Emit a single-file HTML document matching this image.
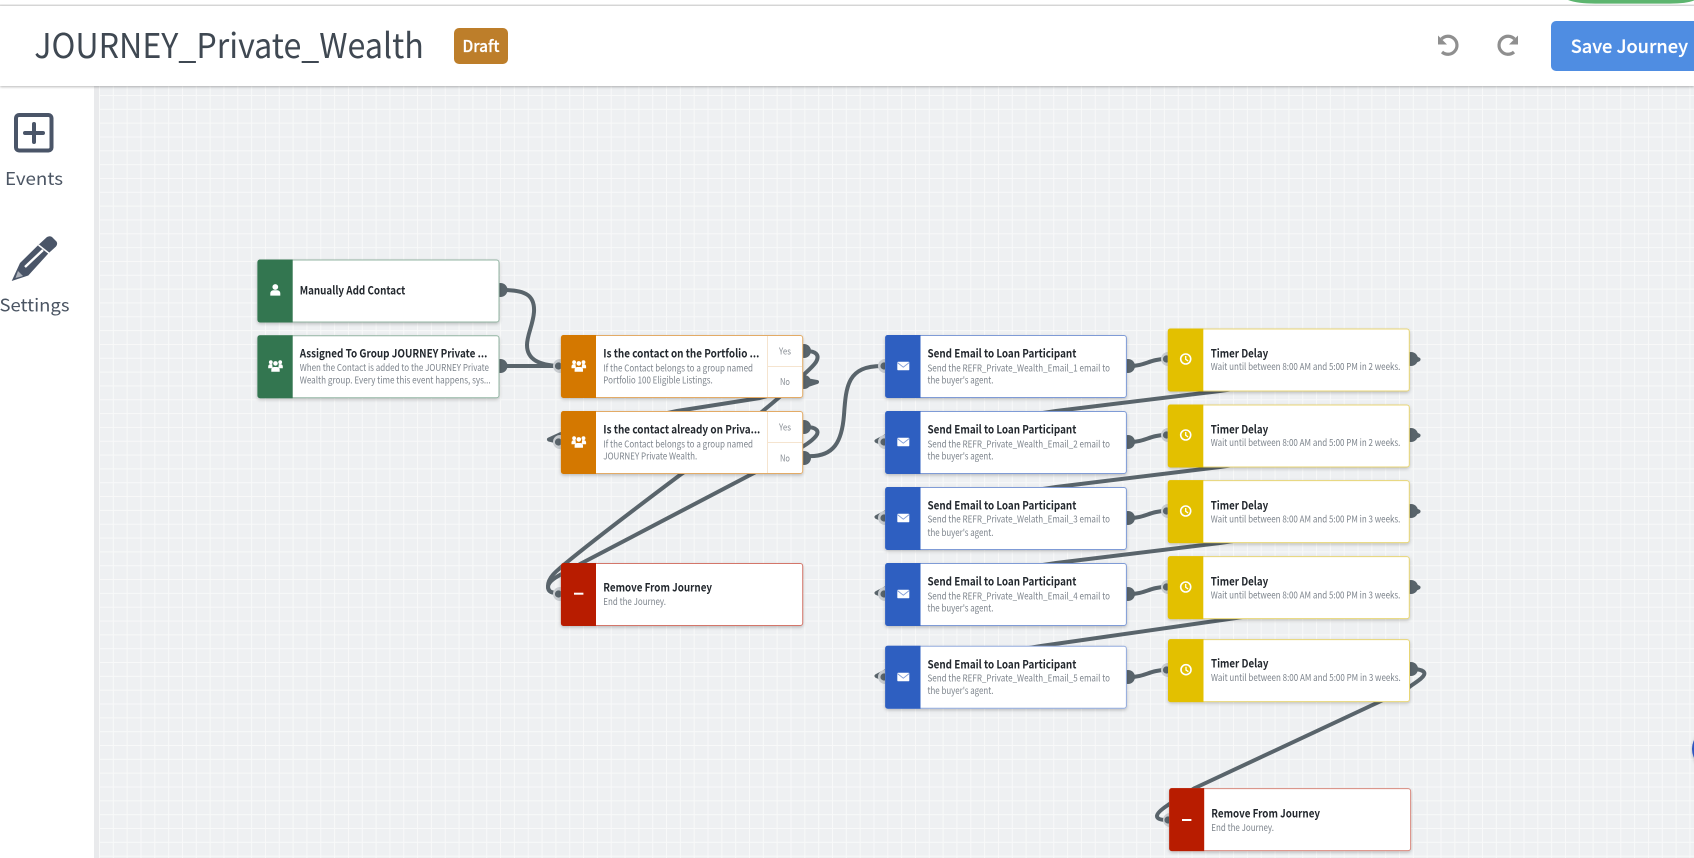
<!DOCTYPE html>
<html lang="en">
<head>
<meta charset="utf-8">
<title>JOURNEY_Private_Wealth</title>
<style>
html,body{margin:0;padding:0;width:1694px;height:858px;overflow:hidden;background:#fff}
svg{display:block}
text{font-family:"Noto Sans CJK JP","Liberation Sans",sans-serif}
.t{font-size:11.6px;font-weight:700;fill:#23282e}
.d{font-size:9.5px;fill:#7d848c}
.o{font-size:9.2px;fill:#868c93;text-anchor:middle}
.c{fill:none;stroke:#59646b;stroke-width:4;stroke-linecap:round;stroke-linejoin:round}
.rp{fill:#59646b}
.h{fill:#c9cdd1}
.k{fill:#59646b}
</style>
</head>
<body>
<svg width="1694" height="858" viewBox="0 0 1694 858" xmlns="http://www.w3.org/2000/svg">
<defs>
<pattern id="grid" patternUnits="userSpaceOnUse" x="99" y="95" width="13.83" height="13.83">
<rect width="13.83" height="13.83" fill="#eef0f2"/>
<rect x="0" y="0" width="1" height="13.83" fill="#f8f9f9"/>
<rect x="0" y="0" width="13.83" height="1" fill="#f8f9f9"/>
</pattern>
<filter id="s" x="-5%" y="-15%" width="110%" height="135%"><feDropShadow dx="0" dy="1.5" stdDeviation="1.6" flood-color="#000" flood-opacity=".22"/></filter>
<filter id="hs" x="-2%" y="-20%" width="104%" height="140%"><feDropShadow dx="0" dy="1" stdDeviation="1.2" flood-color="#000" flood-opacity=".28"/></filter>
<g id="person"><circle cx="0" cy="-3" r="2.9" fill="#fff"/><path d="M-5 5.6V3.2a3 3 0 0 1 3-3h4a3 3 0 0 1 3 3v2.4z" fill="#fff"/></g>
<g id="group" fill="#fff"><circle cx="-4.7" cy="-3.8" r="1.9"/><circle cx="4.7" cy="-3.8" r="1.9"/><circle cx="0" cy="-2.6" r="2.3"/><path d="M-7.3 2.2v-1.7a2.4 2.4 0 0 1 2.4-2.4h1.6l.5 4.1zM7.3 2.2v-1.7a2.4 2.4 0 0 0-2.4-2.4h-1.6l-.5 4.1z"/><path d="M-4.2 5.8v-2.2a2.6 2.6 0 0 1 2.6-2.6h3.2a2.6 2.6 0 0 1 2.6 2.6v2.2z"/></g>
<g id="mail"><rect x="-6" y="-4.3" width="12" height="8.6" rx=".8" fill="#fff"/><path d="M-5.8-3.4 0 1.2 5.8-3.4" fill="none" stroke="#7f9bd6" stroke-width=".9"/></g>
<g id="clock" fill="none" stroke="#fff"><circle r="5" stroke-width="1.6"/><path d="M0-3V0.3L2.4 2" stroke-width="1.3"/></g>
</defs>

<!-- canvas -->
<rect x="94" y="86" width="1600" height="772" fill="url(#grid)"/>
<rect x="94" y="86" width="5" height="772" fill="#e9eaec"/>

<!-- connectors -->
<path class="c" d="M503 290C525 290 535 295 534 312C533 325 527 335 527 345C527 360 540 365 558 366"/>
<path class="c" d="M503 366H558"/>
<path class="c" d="M806 351C816 351 820 355 816 362C812 368 806 372 796 382C770 408 690 468 680 475C640 505 600 535 566 563C555 572 548 578 548 586C548 592 552 593 558 593"/>
<path class="c" d="M806 380L817 382L802 387L760 398L677 411L640 419L561 434L549 439.5L557 441.5"/>
<path class="c" d="M806 427C816 427 820 431 816 436C812 441 806 445 790 454L752 474L582 563L566 572C555 577 548 582 548 587C548 592 552 593 558 593"/>
<path class="c" d="M806 456C835 458 842 440 844 415C846 385 848 366 882 366"/>

<path class="c" d="M1130 366C1145 366 1150 359 1166 359"/>
<path class="c" d="M1130 442C1145 442 1150 435 1166 435"/>
<path class="c" d="M1130 518C1145 518 1150 511 1166 511"/>
<path class="c" d="M1130 594C1145 594 1150 587 1166 587"/>
<path class="c" d="M1130 677C1145 677 1150 670 1166 670"/>

<path class="c" d="M1412 356.5L1418.5 359.5L1410 363L1220 391L1056 411L885 436.5L876.5 441L884 444"/>
<path class="c" d="M1412 432.5L1418.5 435.5L1410 439L1220 467L1056 487L885 512.5L876.5 517L884 520"/>
<path class="c" d="M1412 508.5L1418.5 511.5L1410 515L1220 543L1056 563L885 588.5L876.5 593L884 596"/>
<path class="c" d="M1412 584.5L1418.5 587.5L1410 591L1236 618L1041 646L885 671.5L876.5 676L884 679"/>
<path class="c" d="M1412 669C1420 669 1426 671 1424 675C1422 679 1416 682 1408 688L1381 701L1195 788L1168 805C1162 809 1157 813 1157 816C1157 819 1161 820 1167 820"/>

<!-- ports -->
<g class="rp">
<circle cx="500.5" cy="290" r="7"/><circle cx="500.5" cy="366" r="7"/>
<circle cx="804" cy="351" r="7"/><circle cx="804" cy="382" r="7"/>
<circle cx="804" cy="427" r="7"/><circle cx="804" cy="458" r="7"/>
<circle cx="1128" cy="366" r="7"/><circle cx="1128" cy="442" r="7"/><circle cx="1128" cy="518" r="7"/><circle cx="1128" cy="594" r="7"/><circle cx="1128" cy="677" r="7"/>
<circle cx="1411" cy="359" r="7"/><circle cx="1411" cy="435" r="7"/><circle cx="1411" cy="511" r="7"/><circle cx="1411" cy="587" r="7"/><circle cx="1411" cy="669" r="7"/>
</g>
<g class="h">
<circle cx="560" cy="366" r="7"/><circle cx="560" cy="442" r="7"/><circle cx="560" cy="594" r="7"/>
<circle cx="885" cy="366" r="7"/><circle cx="885" cy="442" r="7"/><circle cx="885" cy="518" r="7"/><circle cx="885" cy="594" r="7"/><circle cx="885" cy="677" r="7"/>
<circle cx="1168" cy="359" r="7"/><circle cx="1168" cy="435" r="7"/><circle cx="1168" cy="511" r="7"/><circle cx="1168" cy="587" r="7"/><circle cx="1168" cy="670" r="7"/>
<circle cx="1170" cy="820" r="7"/>
</g>
<g class="k">
<circle cx="558.5" cy="366" r="3.6"/><circle cx="558.5" cy="442" r="3.6"/><circle cx="558.5" cy="594" r="3.6"/>
<circle cx="884" cy="366" r="3.6"/><circle cx="884" cy="442" r="3.6"/><circle cx="884" cy="518" r="3.6"/><circle cx="884" cy="594" r="3.6"/><circle cx="884" cy="677" r="3.6"/>
<circle cx="1166.5" cy="359" r="3.6"/><circle cx="1166.5" cy="435" r="3.6"/><circle cx="1166.5" cy="511" r="3.6"/><circle cx="1166.5" cy="587" r="3.6"/><circle cx="1166.5" cy="670" r="3.6"/>
<circle cx="1168" cy="820" r="3.6"/>
</g>

<!-- Nodes: green -->
<g>
<rect x="257.7" y="260" width="241.3" height="62" rx="2.5" fill="#fff" stroke="#93b5a3" filter="url(#s)"/>
<path d="M260 259.5h32.7v63H260a2.5 2.5 0 0 1-2.5-2.5V262a2.5 2.5 0 0 1 2.5-2.5z" fill="#337650"/>
<use href="#person" x="275.3" y="290"/>
<text class="t" x="299.7" y="294.3" textLength="105.6" lengthAdjust="spacingAndGlyphs">Manually Add Contact</text>
</g>
<g>
<rect x="257.7" y="335.7" width="241.3" height="62" rx="2.5" fill="#fff" stroke="#93b5a3" filter="url(#s)"/>
<path d="M260 335.2h32.7v63H260a2.5 2.5 0 0 1-2.5-2.5V337.7a2.5 2.5 0 0 1 2.5-2.5z" fill="#337650"/>
<use href="#group" x="275.5" y="366"/>
<text class="t" x="299.7" y="357.5" textLength="187.6" lengthAdjust="spacingAndGlyphs">Assigned To Group JOURNEY Private ...</text>
<text class="d" x="299.7" y="371" textLength="189.3" lengthAdjust="spacingAndGlyphs">When the Contact is added to the JOURNEY Private</text>
<text class="d" x="299.7" y="383.3" textLength="191" lengthAdjust="spacingAndGlyphs">Wealth group. Every time this event happens, sys...</text>
</g>

<!-- Nodes: orange -->
<g>
<rect x="561.3" y="335.5" width="241.4" height="62" rx="2.5" fill="#fff" stroke="#e3ab66" filter="url(#s)"/>
<path d="M563.5 335h32.5v63h-32.5a2.5 2.5 0 0 1-2.5-2.5V337.5a2.5 2.5 0 0 1 2.5-2.5z" fill="#d47800"/>
<use href="#group" x="578.8" y="366"/>
<path d="M767.5 336V397M767.5 366.5H802" stroke="#f5e4cf" stroke-width="1" fill="none"/>
<text class="t" x="603.3" y="357.3" textLength="156" lengthAdjust="spacingAndGlyphs">Is the contact on the Portfolio ...</text>
<text class="d" x="603.3" y="371.3" textLength="149.7" lengthAdjust="spacingAndGlyphs">If the Contact belongs to a group named</text>
<text class="d" x="603.3" y="383.3" textLength="109.4" lengthAdjust="spacingAndGlyphs">Portfolio 100 Eligible Listings.</text>
<text class="o" x="785" y="354.5" textLength="12" lengthAdjust="spacingAndGlyphs">Yes</text>
<text class="o" x="785" y="385" textLength="10" lengthAdjust="spacingAndGlyphs">No</text>
</g>
<g>
<rect x="561.3" y="411.5" width="241.4" height="62" rx="2.5" fill="#fff" stroke="#e3ab66" filter="url(#s)"/>
<path d="M563.5 411h32.5v63h-32.5a2.5 2.5 0 0 1-2.5-2.5V413.5a2.5 2.5 0 0 1 2.5-2.5z" fill="#d47800"/>
<use href="#group" x="578.8" y="442"/>
<path d="M767.5 412V473M767.5 442.5H802" stroke="#f5e4cf" stroke-width="1" fill="none"/>
<text class="t" x="603.3" y="433.3" textLength="157" lengthAdjust="spacingAndGlyphs">Is the contact already on Priva...</text>
<text class="d" x="603.3" y="447.3" textLength="149.7" lengthAdjust="spacingAndGlyphs">If the Contact belongs to a group named</text>
<text class="d" x="603.3" y="459.3" textLength="94" lengthAdjust="spacingAndGlyphs">JOURNEY Private Wealth.</text>
<text class="o" x="785" y="430.5" textLength="12" lengthAdjust="spacingAndGlyphs">Yes</text>
<text class="o" x="785" y="461.5" textLength="10" lengthAdjust="spacingAndGlyphs">No</text>
</g>

<!-- Nodes: red -->
<g>
<rect x="561.3" y="563.5" width="241.4" height="62" rx="2.5" fill="#fff" stroke="#d4766a" filter="url(#s)"/>
<path d="M563.5 563h32.5v63h-32.5a2.5 2.5 0 0 1-2.5-2.5V565.5a2.5 2.5 0 0 1 2.5-2.5z" fill="#b81c00"/>
<rect x="574" y="592.7" width="9.4" height="2" fill="#fff"/>
<text class="t" x="603.3" y="591.5" textLength="108.7" lengthAdjust="spacingAndGlyphs">Remove From Journey</text>
<text class="d" x="603.3" y="605" textLength="62.7" lengthAdjust="spacingAndGlyphs">End the Journey.</text>
</g>
<g>
<rect x="1169.6" y="788.6" width="241" height="62" rx="2.5" fill="#fff" stroke="#d98a7f" filter="url(#s)"/>
<path d="M1171.7 788.1h32.5v63h-32.5a2.5 2.5 0 0 1-2.5-2.5V790.6a2.5 2.5 0 0 1 2.5-2.5z" fill="#b81c00"/>
<rect x="1182" y="819" width="9.4" height="2" fill="#fff"/>
<text class="t" x="1211.3" y="817.7" textLength="108.7" lengthAdjust="spacingAndGlyphs">Remove From Journey</text>
<text class="d" x="1211.3" y="831" textLength="62.7" lengthAdjust="spacingAndGlyphs">End the Journey.</text>
</g>

<!-- Nodes: blue -->
<g>
<rect x="885.5" y="335.5" width="240.9" height="62" rx="2.5" fill="#fff" stroke="#7f9bd6" filter="url(#s)"/>
<path d="M887.7 335h32.8v63h-32.8a2.5 2.5 0 0 1-2.5-2.5V337.5a2.5 2.5 0 0 1 2.5-2.5z" fill="#2e5fc1"/>
<use href="#mail" x="903.3" y="366"/>
<text class="t" x="927.5" y="357.7" textLength="148.9" lengthAdjust="spacingAndGlyphs">Send Email to Loan Participant</text>
<text class="d" x="927.5" y="371.3" textLength="182.5" lengthAdjust="spacingAndGlyphs">Send the REFR_Private_Wealth_Email_1 email to</text>
<text class="d" x="927.5" y="383.3" textLength="66" lengthAdjust="spacingAndGlyphs">the buyer's agent.</text>
</g>
<g>
<rect x="885.5" y="411.5" width="240.9" height="62" rx="2.5" fill="#fff" stroke="#7f9bd6" filter="url(#s)"/>
<path d="M887.7 411h32.8v63h-32.8a2.5 2.5 0 0 1-2.5-2.5V413.5a2.5 2.5 0 0 1 2.5-2.5z" fill="#2e5fc1"/>
<use href="#mail" x="903.3" y="442"/>
<text class="t" x="927.5" y="433.7" textLength="148.9" lengthAdjust="spacingAndGlyphs">Send Email to Loan Participant</text>
<text class="d" x="927.5" y="447.3" textLength="182.5" lengthAdjust="spacingAndGlyphs">Send the REFR_Private_Wealth_Email_2 email to</text>
<text class="d" x="927.5" y="459.3" textLength="66" lengthAdjust="spacingAndGlyphs">the buyer's agent.</text>
</g>
<g>
<rect x="885.5" y="487.5" width="240.9" height="62" rx="2.5" fill="#fff" stroke="#7f9bd6" filter="url(#s)"/>
<path d="M887.7 487h32.8v63h-32.8a2.5 2.5 0 0 1-2.5-2.5V489.5a2.5 2.5 0 0 1 2.5-2.5z" fill="#2e5fc1"/>
<use href="#mail" x="903.3" y="518"/>
<text class="t" x="927.5" y="509.7" textLength="148.9" lengthAdjust="spacingAndGlyphs">Send Email to Loan Participant</text>
<text class="d" x="927.5" y="522.5" textLength="182.5" lengthAdjust="spacingAndGlyphs">Send the REFR_Private_Welath_Email_3 email to</text>
<text class="d" x="927.5" y="535.8" textLength="66" lengthAdjust="spacingAndGlyphs">the buyer's agent.</text>
</g>
<g>
<rect x="885.5" y="563.5" width="240.9" height="62" rx="2.5" fill="#fff" stroke="#7f9bd6" filter="url(#s)"/>
<path d="M887.7 563h32.8v63h-32.8a2.5 2.5 0 0 1-2.5-2.5V565.5a2.5 2.5 0 0 1 2.5-2.5z" fill="#2e5fc1"/>
<use href="#mail" x="903.3" y="594"/>
<text class="t" x="927.5" y="585.7" textLength="148.9" lengthAdjust="spacingAndGlyphs">Send Email to Loan Participant</text>
<text class="d" x="927.5" y="599.3" textLength="182.5" lengthAdjust="spacingAndGlyphs">Send the REFR_Private_Wealth_Email_4 email to</text>
<text class="d" x="927.5" y="611.3" textLength="66" lengthAdjust="spacingAndGlyphs">the buyer's agent.</text>
</g>
<g>
<rect x="885.5" y="646.2" width="240.9" height="62" rx="2.5" fill="#fff" stroke="#93abdd" filter="url(#s)"/>
<path d="M887.7 645.7h32.8v63h-32.8a2.5 2.5 0 0 1-2.5-2.5V648.2a2.5 2.5 0 0 1 2.5-2.5z" fill="#2e5fc1"/>
<use href="#mail" x="903.3" y="677"/>
<text class="t" x="927.5" y="668.7" textLength="148.9" lengthAdjust="spacingAndGlyphs">Send Email to Loan Participant</text>
<text class="d" x="927.5" y="681.3" textLength="182.5" lengthAdjust="spacingAndGlyphs">Send the REFR_Private_Wealth_Email_5 email to</text>
<text class="d" x="927.5" y="694" textLength="66" lengthAdjust="spacingAndGlyphs">the buyer's agent.</text>
</g>

<!-- Nodes: yellow -->
<g>
<rect x="1168.3" y="329" width="241" height="62" rx="2.5" fill="#fff" stroke="#e8d675" filter="url(#s)"/>
<path d="M1170.3 328.5h33v63h-33a2.5 2.5 0 0 1-2.5-2.5V331a2.5 2.5 0 0 1 2.5-2.5z" fill="#e3c000"/>
<use href="#clock" x="1185.7" y="359"/>
<text class="t" x="1210.7" y="357.7" textLength="57.5" lengthAdjust="spacingAndGlyphs">Timer Delay</text>
<text class="d" x="1210.7" y="370" textLength="189.7" lengthAdjust="spacingAndGlyphs">Wait until between 8:00 AM and 5:00 PM in 2 weeks.</text>
</g>
<g>
<rect x="1168.3" y="405" width="241" height="62" rx="2.5" fill="#fff" stroke="#e8d675" filter="url(#s)"/>
<path d="M1170.3 404.5h33v63h-33a2.5 2.5 0 0 1-2.5-2.5V407a2.5 2.5 0 0 1 2.5-2.5z" fill="#e3c000"/>
<use href="#clock" x="1185.7" y="435"/>
<text class="t" x="1210.7" y="433.7" textLength="57.5" lengthAdjust="spacingAndGlyphs">Timer Delay</text>
<text class="d" x="1210.7" y="446" textLength="189.7" lengthAdjust="spacingAndGlyphs">Wait until between 8:00 AM and 5:00 PM in 2 weeks.</text>
</g>
<g>
<rect x="1168.3" y="480.6" width="241" height="62" rx="2.5" fill="#fff" stroke="#e8d675" filter="url(#s)"/>
<path d="M1170.3 480.1h33v63h-33a2.5 2.5 0 0 1-2.5-2.5V482.6a2.5 2.5 0 0 1 2.5-2.5z" fill="#e3c000"/>
<use href="#clock" x="1185.7" y="511"/>
<text class="t" x="1210.7" y="509.7" textLength="57.5" lengthAdjust="spacingAndGlyphs">Timer Delay</text>
<text class="d" x="1210.7" y="522.3" textLength="189.7" lengthAdjust="spacingAndGlyphs">Wait until between 8:00 AM and 5:00 PM in 3 weeks.</text>
</g>
<g>
<rect x="1168.3" y="556.6" width="241" height="62" rx="2.5" fill="#fff" stroke="#e8d675" filter="url(#s)"/>
<path d="M1170.3 556.1h33v63h-33a2.5 2.5 0 0 1-2.5-2.5V558.6a2.5 2.5 0 0 1 2.5-2.5z" fill="#e3c000"/>
<use href="#clock" x="1185.7" y="587"/>
<text class="t" x="1210.7" y="585.7" textLength="57.5" lengthAdjust="spacingAndGlyphs">Timer Delay</text>
<text class="d" x="1210.7" y="598.3" textLength="189.7" lengthAdjust="spacingAndGlyphs">Wait until between 8:00 AM and 5:00 PM in 3 weeks.</text>
</g>
<g>
<rect x="1168.5" y="639.6" width="241" height="62" rx="2.5" fill="#fff" stroke="#e8d675" filter="url(#s)"/>
<path d="M1170.5 639.1h33v63h-33a2.5 2.5 0 0 1-2.5-2.5V641.6a2.5 2.5 0 0 1 2.5-2.5z" fill="#e3c000"/>
<use href="#clock" x="1186" y="669.7"/>
<text class="t" x="1211" y="667.7" textLength="57.5" lengthAdjust="spacingAndGlyphs">Timer Delay</text>
<text class="d" x="1211" y="681" textLength="189.7" lengthAdjust="spacingAndGlyphs">Wait until between 8:00 AM and 5:00 PM in 3 weeks.</text>
</g>

<!-- floating circle at right edge -->
<circle cx="1713" cy="749" r="21" fill="#2d55c0" filter="url(#s)"/>

<!-- sidebar -->
<path d="M0 86H90a4 4 0 0 1 4 4V858H0z" fill="#fff"/>
<rect x="16" y="115" width="35.5" height="35.5" rx="3" fill="none" stroke="#4a5568" stroke-width="4"/>
<path d="M34 124V142M25 133H43" stroke="#4a5568" stroke-width="4" stroke-linecap="round"/>
<text x="5" y="185" font-size="17.8" fill="#4b5563" textLength="58" lengthAdjust="spacingAndGlyphs">Events</text>
<path d="M11.7 281L20 263L38.3 245L47 237Q50 235.5 52 237L56.5 241.5Q58 244 56 246.5L48.3 253.5L28.3 275.5z" fill="#4a5568"/>
<path d="M25 267L43 250" stroke="#fff" stroke-width="2.4" fill="none"/>
<path d="M38.5 245L50.5 254.5" stroke="#fff" stroke-width="1.5" fill="none"/>
<path d="M18 271L23 276L15.5 278z" fill="#fff" opacity=".55"/>
<text x="-0.5" y="311.7" font-size="17.8" fill="#4b5563" textLength="70" lengthAdjust="spacingAndGlyphs">Settings</text>

<!-- header -->
<rect x="0" y="0" width="1694" height="5" fill="#fff"/>
<path d="M1568 0H1694V0.5Q1686 3.6 1670 3.6H1595Q1578 3.6 1568 0z" fill="#5db56f"/>
<rect x="0" y="4.5" width="1694" height="1.5" fill="#dcdcdc"/>
<rect x="0" y="6" width="1694" height="80" fill="#fff" filter="url(#hs)"/>
<text x="34.3" y="58" font-size="34.4" fill="#3f4852" textLength="389.5" lengthAdjust="spacingAndGlyphs">JOURNEY_Private_Wealth</text>
<rect x="454" y="28" width="54" height="36" rx="5" fill="#bd7e2a"/>
<text x="462.5" y="52" font-size="16" font-weight="500" fill="#fff" stroke="#fff" stroke-width=".25" textLength="37" lengthAdjust="spacingAndGlyphs">Draft</text>

<g fill="none" stroke="#8f8f8f" stroke-width="3.2">
<path d="M1441.5 39A9 9 0 1 1 1442 52"/>
<path d="M1514.5 39A9 9 0 1 0 1514 52"/>
</g>
<path d="M1438 35.5V44.5H1447z" fill="#8f8f8f"/>
<path d="M1518 35.5V44.5H1509z" fill="#8f8f8f"/>

<rect x="1551" y="21" width="160" height="50" rx="5" fill="#4f8de2"/>
<text x="1570.7" y="53" font-size="18.6" font-weight="500" fill="#fff" stroke="#fff" stroke-width=".2" textLength="117.3" lengthAdjust="spacingAndGlyphs">Save Journey</text>
</svg>
</body>
</html>
